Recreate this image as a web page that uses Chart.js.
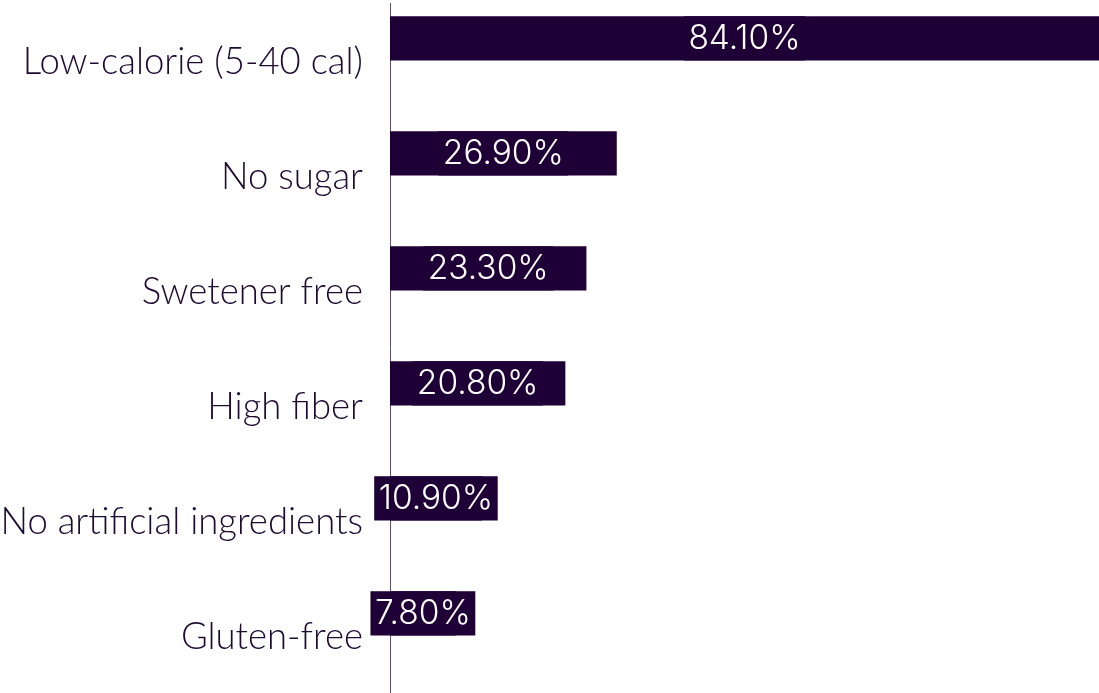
<!DOCTYPE html>
<html>
<head>
<meta charset="utf-8">
<script src="https://cdn.jsdelivr.net/npm/chart.js@4.4.1/dist/chart.umd.min.js"></script>
<style>
  html, body { margin: 0; padding: 0; background: #ffffff; }
  #wrap { width: 1099px; height: 693px; position: relative; }
</style>
</head>
<body>
<div id="wrap"><canvas id="chart"></canvas></div>
<script>
// Share of respondents choosing each product attribute (%)
const categories = [
  'Low-calorie (5-40 cal)',
  'No sugar',
  'Swetener free',
  'High fiber',
  'No artificial ingredients',
  'Gluten-free'
];
const shares = [84.1, 26.9, 23.3, 20.8, 10.9, 7.8];

const barColor = '#1f0036';
const textColor = '#1f0a33';

// Draws each value centred on its bar, on a box of the bar colour
const valueLabels = {
  id: 'valueLabels',
  afterDatasetsDraw(chart) {
    const ctx = chart.ctx;
    const meta = chart.getDatasetMeta(0);
    ctx.save();
    ctx.font = '300 33.5px Inter, Roboto, sans-serif';
    ctx.textAlign = 'center';
    ctx.textBaseline = 'middle';
    meta.data.forEach((bar, i) => {
      const text = shares[i].toFixed(2) + '%';
      const cx = (bar.x + bar.base) / 2;
      const w = ctx.measureText(text).width + 9;
      const h = bar.height;
      ctx.fillStyle = barColor;
      ctx.fillRect(cx - w / 2, bar.y - h / 2, w, h);
      ctx.fillStyle = '#ffffff';
      ctx.fillText(text, cx, bar.y + 1);
    });
    ctx.restore();
  }
};

new Chart(document.getElementById('chart'), {
  type: 'bar',
  data: {
    labels: categories,
    datasets: [
      { data: shares, backgroundColor: barColor, borderWidth: 0,
        barPercentage: 1.0, categoryPercentage: 0.77 },
      { data: categories.map(() => null), backgroundColor: 'rgba(0,0,0,0)',
        barPercentage: 1.0, categoryPercentage: 0.77 }
    ]
  },
  options: {
    indexAxis: 'y',
    responsive: true,
    maintainAspectRatio: false,
    animation: false,
    layout: { padding: { top: 3, right: 0, bottom: 0, left: 0 } },
    plugins: { legend: { display: false }, tooltip: { enabled: false } },
    scales: {
      x: { display: false, min: 0, max: 84.1 },
      y: {
        afterFit(scale) {
          scale.width = 390;
          scale.paddingTop = 0;
          scale.paddingBottom = 0;
        },
        grid: { display: true, drawOnChartArea: false, drawTicks: true,
                tickLength: 27, color: 'rgba(0,0,0,0)' },
        border: { display: true, color: '#5b4d6b', width: 1 },
        ticks: {
          padding: 0,
          labelOffset: 2,
          color: textColor,
          font: { family: 'Lato, sans-serif', size: 36.5, weight: 300 }
        }
      }
    }
  },
  plugins: [valueLabels]
});
</script>
</body>
</html>
